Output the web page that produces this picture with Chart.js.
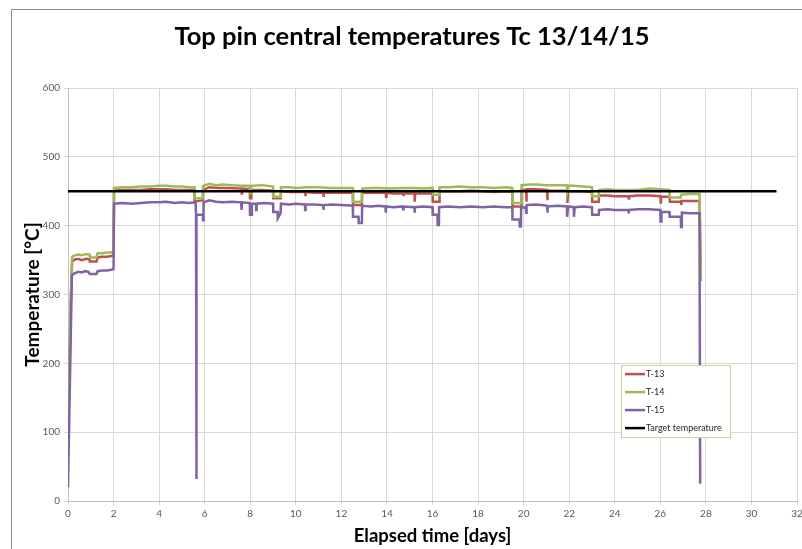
<!DOCTYPE html>
<html>
<head>
<meta charset="utf-8">
<script src="https://cdn.jsdelivr.net/npm/chart.js@4.4.1/dist/chart.umd.min.js"></script>
<style>
  html, body { margin: 0; padding: 0; background: #fff; }
  #wrap { width: 802px; height: 549px; }
</style>
</head>
<body>
<div id="wrap"><canvas id="canvas" width="802" height="549"></canvas></div>
<script>
// axis ticks
const dayTicks = [0, 2, 4, 6, 8, 10, 12, 14, 16, 18, 20, 22, 24, 26, 28, 30, 32];
const tempTicks = [0, 100, 200, 300, 400, 500, 600];

// [elapsed days, temperature °C]
const t13Points = [
    [0,78],[0.12,285],[0.18,348],[0.3,351],[0.45,352],[0.6,350],[0.8,352],[0.95,351],[0.96,348],[1.25,348],[1.3,354],[1.5,355],
    [1.7,355],[1.9,356],[2.0,357],[2.02,451],[2.4,452],[2.8,452],[3.2,452],[3.6,453],[4.0,453],[4.3,453],[4.7,452],[5.0,452],
    [5.3,452],[5.55,452],[5.56,435],[5.92,437],[5.93,452],[6.2,456],[6.6,455],[7.0,455],[7.62,454],[7.63,445],[7.65,454],
    [7.98,453],[7.99,440],[8.04,440],[8.05,452],[8.5,452],[9.0,451],[9.01,440],[9.34,440],[9.35,450],[9.8,449],[10.41,449],
    [10.42,443],[10.44,449],[10.8,448],[11.21,448],[11.22,442],[11.24,448],[11.7,448],[12.1,448],[12.5,448],[12.51,430],
    [12.9,430],[12.91,448],[13.4,448],[13.95,448],[13.96,442],[13.98,448],[14.3,447],[14.71,447],[14.72,443],[14.74,447],
    [15.21,447],[15.22,435],[15.24,447],[15.6,447],[16.0,447],[16.01,435],[16.3,435],[16.31,450],[16.7,450],[17.2,450],
    [17.7,451],[18.2,450],[18.7,449],[19.2,450],[19.5,449],[19.51,428],[19.9,428],[19.91,452],[20.11,452],[20.12,435],
    [20.14,453],[20.5,453],[21.03,452],[21.04,437],[21.06,451],[21.5,451],[21.91,451],[21.92,433],[21.95,450],[22.5,450],
    [23.0,449],[23.01,435],[23.3,435],[23.31,444],[23.7,444],[24.0,443],[24.61,443],[24.62,438],[24.64,443],[25.0,444],
    [25.5,444],[26.01,443],[26.02,432],[26.04,442],[26.41,442],[26.42,435],[26.91,435],[26.92,430],[26.94,436],[27.3,436],
    [27.72,436],[27.78,320]
];
const t14Points = [
    [0,78],[0.12,290],[0.18,355],[0.3,357],[0.45,358],[0.6,357],[0.8,359],[0.95,358],[0.96,354],[1.25,354],[1.3,360],[1.5,360],
    [1.7,361],[1.9,361],[2.0,363],[2.02,455],[2.4,456],[2.8,456],[3.2,457],[3.6,457],[4.0,458],[4.3,458],[4.7,457],[5.0,457],
    [5.3,456],[5.55,456],[5.56,440],[5.92,440],[5.93,458],[6.2,461],[6.5,459],[6.8,460],[7.2,459],[7.6,458],[7.98,458],
    [7.99,447],[8.04,447],[8.05,458],[8.5,459],[9.0,457],[9.01,442],[9.34,442],[9.35,456],[9.7,456],[10.0,455],[10.5,456],
    [11,456],[11.5,455],[12,455],[12.5,455],[12.51,435],[12.9,435],[12.91,454],[13.3,455],[13.7,455],[14.2,454],[14.7,455],
    [15.2,455],[15.6,454],[16.0,455],[16.01,445],[16.3,445],[16.31,456],[16.7,456],[17.2,457],[17.7,456],[18.2,456],
    [18.7,455],[19.2,456],[19.5,455],[19.51,433],[19.9,433],[19.91,459],[20.3,460],[20.6,460],[21.0,459],[21.4,459],
    [21.9,459],[21.91,450],[21.95,458],[22.2,458],[22.6,457],[23.0,456],[23.01,443],[23.3,443],[23.31,452],[23.7,453],
    [24.0,452],[24.5,452],[25.0,452],[25.5,454],[26.0,453],[26.4,452],[26.41,441],[26.9,441],[26.91,445],[27.3,446],
    [27.72,446],[27.78,320]
];
const t15Points = [
    [0,20],[0.17,328],[0.3,331],[0.45,333],[0.6,332],[0.75,334],[0.9,333],[0.95,330],[1.25,330],[1.3,334],[1.5,335],[1.7,335],
    [1.9,336],[2.0,337],[2.02,432],[2.4,433],[2.8,432],[3.2,433],[3.6,434],[4.0,434],[4.3,435],[4.7,433],[5.0,434],[5.3,433],
    [5.6,434],[5.62,416],[5.63,32],[5.65,416],[5.92,416],[5.93,408],[5.95,434],[6.2,437],[6.5,435],[6.8,434],[7.2,435],
    [7.6,434],[7.62,423],[7.64,434],[7.98,433],[7.99,416],[8.06,416],[8.07,432],[8.25,432],[8.26,423],[8.28,432],[8.6,433],
    [9.0,432],[9.01,420],[9.2,420],[9.21,411],[9.33,418],[9.35,432],[9.7,431],[10.0,432],[10.4,431],[10.41,423],[10.43,431],
    [10.8,431],[11.2,430],[11.21,423],[11.23,430],[11.6,431],[12.0,430],[12.5,429],[12.51,413],[12.75,413],[12.76,404],
    [12.9,404],[12.91,429],[13.3,428],[13.6,429],[13.94,428],[13.95,419],[13.97,428],[14.3,427],[14.7,428],[14.71,424],
    [14.73,428],[15.2,427],[15.21,419],[15.23,427],[15.6,428],[16.0,427],[16.01,416],[16.22,416],[16.23,401],[16.28,401],
    [16.29,427],[16.7,428],[17.2,427],[17.7,428],[18.2,427],[18.7,428],[19.2,427],[19.5,427],[19.51,409],[19.82,409],
    [19.83,399],[19.88,399],[19.89,426],[20.1,427],[20.11,419],[20.13,430],[20.5,431],[20.8,430],[21.03,429],[21.04,419],
    [21.06,428],[21.5,429],[21.9,428],[21.91,413],[21.95,428],[22.2,427],[22.21,413],[22.24,427],[22.6,428],[23.0,427],
    [23.01,416],[23.3,416],[23.31,423],[23.7,424],[24.0,423],[24.6,423],[24.61,418],[24.63,423],[25.0,424],[25.5,424],
    [26.0,423],[26.01,406],[26.04,406],[26.05,420],[26.4,420],[26.41,413],[26.9,413],[26.91,398],[26.94,398],[26.95,419],
    [27.3,418],[27.72,418],[27.75,25]
];
const targetPoints = [[0,450],[31.1,450]];

const toXY = pts => pts.map(p => ({x: p[0], y: p[1]}));

const frame = {
    id: 'frame',
    beforeDraw(chart){
        const c = chart.ctx;
        c.save();
        c.fillStyle = '#fff';
        c.fillRect(0, 0, chart.width, chart.height);
        c.strokeStyle = '#8c8c8c';
        c.lineWidth = 1;
        c.beginPath();
        c.moveTo(11.5, chart.height);
        c.lineTo(11.5, 9.5);
        c.lineTo(chart.width, 9.5);
        c.stroke();
        c.restore();
    }
};

// legend box sitting inside the plot, bottom right
const boxLegend = {
    id: 'boxLegend',
    afterDraw(chart){
        const c = chart.ctx;
        const a = chart.chartArea;
        const left = a.right - 176, top = a.top + 277, w = 109, h = 72;
        c.save();
        c.fillStyle = '#fff';
        c.fillRect(left, top, w, h);
        c.strokeStyle = '#c3d69b';
        c.lineWidth = 1;
        c.strokeRect(left + 0.5, top + 0.5, w, h);
        c.font = '9px Lato';
        c.textBaseline = 'middle';
        chart.data.datasets.forEach((ds, i) => {
            const y = top + 9 + i * 18;
            c.strokeStyle = ds.borderColor;
            c.lineWidth = 2.5;
            c.beginPath();
            c.moveTo(left + 4, y);
            c.lineTo(left + 24, y);
            c.stroke();
            c.fillStyle = '#262626';
            c.fillText(ds.label, left + 25, y);
        });
        c.restore();
    }
};

const tickFont = {family: 'Lato', size: 10};
const ctx = document.getElementById('canvas').getContext('2d');
const myChart = new Chart(ctx, {
    type: 'line',
    data: {
        datasets: [
            {label: 'T-13', data: toXY(t13Points), borderColor: '#c0504d', order: 3},
            {label: 'T-14', data: toXY(t14Points), borderColor: '#9bbb59', order: 2},
            {label: 'T-15', data: toXY(t15Points), borderColor: '#8064a2', order: 1},
            {label: 'Target temperature', data: toXY(targetPoints), borderColor: '#000000', order: 0}
        ]
    },
    options: {
        responsive: false,
        animation: false,
        layout: {padding: {left: 22, right: 0, top: 0, bottom: 0}},
        elements: {
            point: {radius: 0},
            line: {borderWidth: 2.5, tension: 0, fill: false}
        },
        plugins: {
            legend: {display: false},
            tooltip: {enabled: false},
            title: {
                display: true,
                text: 'Top pin central temperatures Tc 13/14/15',
                color: '#000',
                font: {family: 'Lato', size: 25.5, weight: 'bold'},
                padding: {top: 21.5, bottom: 36}
            }
        },
        scales: {
            x: {
                type: 'linear',
                min: 0, max: 32,
                afterBuildTicks: s => { s.ticks = dayTicks.map(v => ({value: v})); },
                afterFit: s => { s.height = 48; s.paddingRight = 5; },
                grid: {color: '#d9d9d9', tickLength: 4},
                border: {color: '#bfbfbf'},
                ticks: {color: '#595959', font: tickFont, padding: 3, maxRotation: 0},
                title: {display: true, text: 'Elapsed time [days]', color: '#000',
                    font: {family: 'Lato', size: 18.5, weight: 'bold'}, padding: {top: 0, bottom: 2}}
            },
            y: {
                min: 0, max: 600,
                afterBuildTicks: s => { s.ticks = tempTicks.map(v => ({value: v})); },
                afterFit: s => { s.width = 46; },
                grid: {color: '#d9d9d9', tickLength: 4},
                border: {color: '#bfbfbf'},
                ticks: {color: '#595959', font: tickFont, padding: 4},
                title: {display: true, text: 'Temperature [°C]', color: '#000',
                    font: {family: 'Lato', size: 19, weight: 'bold'}, padding: {top: -1, bottom: 0}}
            }
        }
    },
    plugins: [frame, boxLegend]
});
</script>
</body>
</html>
